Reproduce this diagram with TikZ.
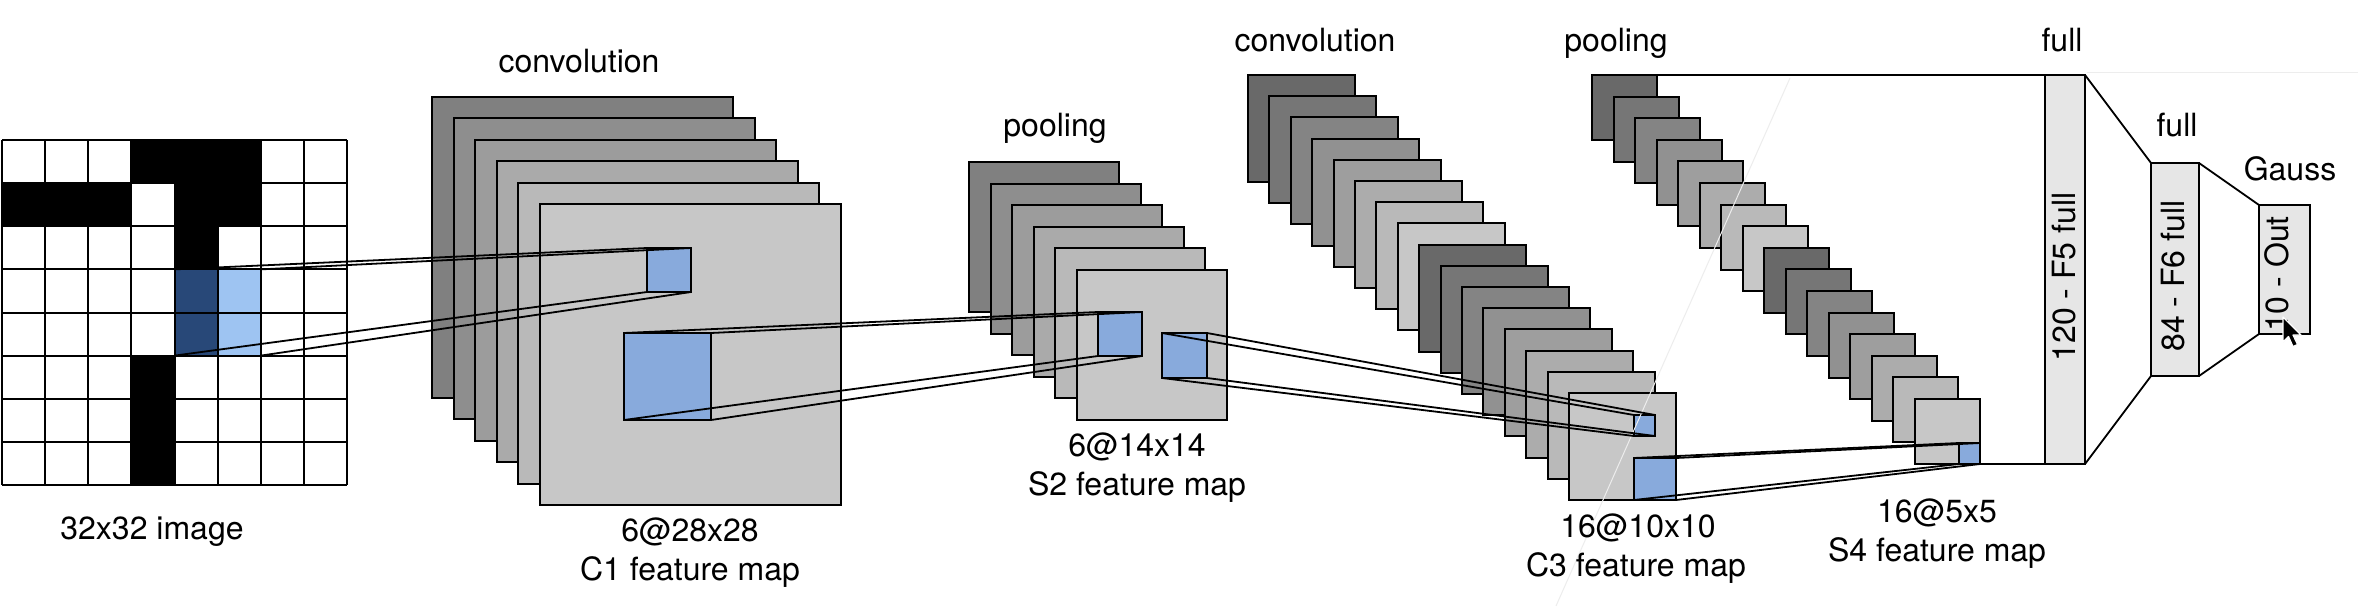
\documentclass[tikz,border=0pt]{standalone}
\usepackage{fontspec}
\setmainfont{TeX Gyre Heros}
\definecolor{bluesq}{HTML}{88AADC}
\definecolor{darkbluecell}{HTML}{284878}
\definecolor{lightbluecell}{HTML}{9EC4F2}
\definecolor{fcfill}{HTML}{E6E6E6}
\begin{document}
\begin{tikzpicture}[x=0.5pt,y=-0.5pt,
  fm/.style={rectangle, draw=black, line width=1pt, anchor=north west, inner sep=0pt, outer sep=0pt},
  bluebox/.style={fm, fill=bluesq},
  fcbox/.style={fm, fill=fcfill},
  conn/.style={draw=black, line width=0.9pt},
  lbl/.style={font=\fontsize{16}{19}\selectfont, inner sep=0pt},
  faint/.style={draw=black!7, line width=0.5pt}]
\useasboundingbox (0,0) rectangle (2358,606);
\fill[white] (0,0) rectangle (2358,606);

% ---------- input image ----------
\foreach \c/\r in {3/0,4/0,5/0,0/1,1/1,2/1,4/1,5/1,4/2,3/5,3/6,3/7}
  \fill[black] ({2+43.125*\c},{140+43.125*\r}) rectangle ++(43.125,43.125);
\foreach \r in {3,4} {
  \fill[darkbluecell] ({2+43.125*4},{140+43.125*\r}) rectangle ++(43.125,43.125);
  \fill[lightbluecell] ({2+43.125*5},{140+43.125*\r}) rectangle ++(43.125,43.125);
}
\foreach \k in {0,...,8} {
  \draw[line width=1pt] ({2+43.125*\k},140) -- ({2+43.125*\k},485);
  \draw[line width=1pt] (2,{140+43.125*\k}) -- (347,{140+43.125*\k});
}
\node[rectangle, inner sep=0pt, outer sep=0pt, minimum width=43.125pt, minimum height=43.125pt, anchor=north west] (rf) at (174.5,269.375) {};

% ---------- C1 ----------
\foreach \i in {0,...,5} {
  \pgfmathsetmacro\g{50-5.6*\i}
  \node[fm, minimum size=150.5pt, fill=black!\g] (c1-\i) at ({432+21.6*\i},{97+21.4*\i}) {};
}
\node[bluebox, minimum size=22pt] (c1a) at (647,248) {};
\node[bluebox, minimum size=43.5pt] (c1b) at (624,333) {};

% ---------- S2 ----------
\foreach \i in {0,...,5} {
  \pgfmathsetmacro\g{50-5.6*\i}
  \node[fm, minimum size=75pt, fill=black!\g] (s2-\i) at ({969+21.6*\i},{162+21.6*\i}) {};
}
\node[bluebox, minimum size=22pt] (s2a) at (1098,312) {};
\node[bluebox, minimum size=22.5pt] (s2b) at (1162,333) {};

% ---------- C3 ----------
\foreach \i in {0,...,15} {
  \pgfmathtruncatemacro\j{mod(\i,8)}
  \pgfmathsetmacro\g{59-37*\j/7}
  \node[fm, minimum size=53.5pt, fill=black!\g] (c3-\i) at ({1248+21.4*\i},{75+21.2*\i}) {};
}
\node[bluebox, minimum size=10.5pt] (c3a) at (1634,415) {};
\node[bluebox, minimum size=21pt] (c3b) at (1634,458) {};

% ---------- S4 ----------
\foreach \i in {0,...,15} {
  \pgfmathtruncatemacro\j{mod(\i,8)}
  \pgfmathsetmacro\g{59-37*\j/7}
  \node[fm, minimum size=32.5pt, fill=black!\g] (s4-\i) at ({1592+21.53*\i},{75+21.6*\i}) {};
}
\node[bluebox, minimum size=10.5pt] (s4a) at (1959,443) {};

% ---------- fully connected ----------
\node[fcbox, minimum width=20pt, minimum height=194.5pt] (f5) at (2045,75) {};
\node[fcbox, minimum width=24pt, minimum height=106.5pt] (f6) at (2151,163) {};
\node[fcbox, minimum width=25.5pt, minimum height=64.5pt] (out) at (2259,205) {};

% faint artefacts
\draw[faint] (1790,78) -- (1556,606);
\draw[faint] (2087,72) -- (2358,72);

% ---------- connectors ----------
\foreach \a in {north west,north east,south west,south east} {
  \draw[conn] (rf.\a) -- (c1a.\a);
  \draw[conn] (c1b.\a) -- (s2a.\a);
  \draw[conn] (s2b.\a) -- (c3a.\a);
  \draw[conn] (c3b.\a) -- (s4a.\a);
}
\draw[conn] (s4-0.north east) -- (f5.north west);
\draw[conn] (s4-15.south east) -- (f5.south west);
\draw[conn] (f5.north east) -- (f6.north west);
\draw[conn] (f5.south east) -- (f6.south west);
\draw[conn] (f6.north east) -- (out.north west);
\draw[conn] (f6.south east) -- (out.south west);

% ---------- labels ----------
\node[lbl] (l-conv1) at (579,61) {convolution};
\node[lbl] (l-img) at (152,532) {32x32 image};
\node[lbl] (l-c1a) at (690,532) {6@28x28};
\node[lbl] (l-c1b) at (690,572) {C1 feature map};
\node[lbl] (l-pool1) at (1055,128) {pooling};
\node[lbl] (l-s2a) at (1137,447) {6@14x14};
\node[lbl] (l-s2b) at (1137,487) {S2 feature map};
\node[lbl] (l-conv2) at (1315,40) {convolution};
\node[lbl] (l-pool2) at (1616,43) {pooling};
\node[lbl] (l-c3a) at (1638,528) {16@10x10};
\node[lbl] (l-c3b) at (1636,568) {C3 feature map};
\node[lbl] (l-s4a) at (1937,513) {16@5x5};
\node[lbl] (l-s4b) at (1937,553) {S4 feature map};
\node[lbl] (l-full1) at (2062,40) {full};
\node[lbl] (l-full2) at (2177,125) {full};
\node[lbl] (l-gauss) at (2290,169) {Gauss};
\node[lbl, rotate=90] (l-f5) at (2064,277) {120 - F5 full};
\node[lbl, rotate=90] (l-f6) at (2173,276) {84 - F6 full};
\node[lbl, rotate=90] (l-out) at (2277,274) {10 - Out};

% mouse pointer
\filldraw[fill=black, draw=white, line width=0.6pt, line join=round]
  (2283,317) -- ++(0,25) -- ++(5.5,-5.5) -- ++(4.5,10) -- ++(4.5,-2) -- ++(-4.5,-9.5) -- ++(8,0) -- cycle;
\end{tikzpicture}
\end{document}
